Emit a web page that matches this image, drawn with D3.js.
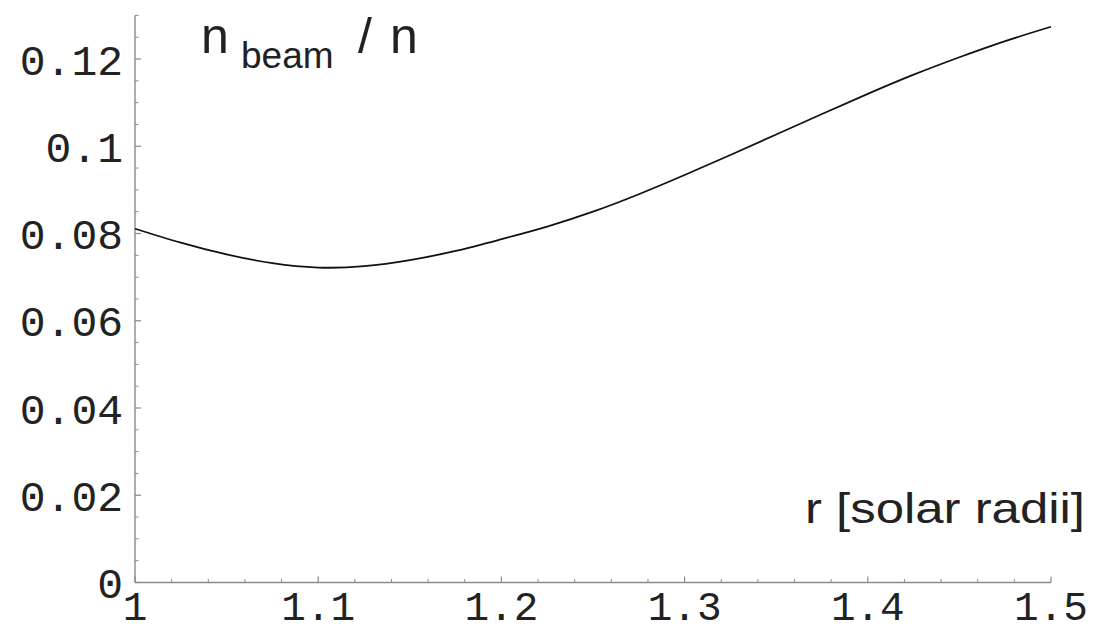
<!DOCTYPE html>
<html>
<head>
<meta charset="utf-8">
<script src="https://cdn.jsdelivr.net/npm/d3@7"></script>
<style>
  html, body { margin: 0; padding: 0; background: #fff; }
  svg { display: block; }
</style>
</head>
<body>
<svg id="chart" width="1093" height="632"></svg>
<script>
// Data
const rValues = [1.000, 1.025, 1.050, 1.075, 1.100, 1.125, 1.150, 1.175, 1.200, 1.225, 1.250,
                 1.275, 1.300, 1.325, 1.350, 1.375, 1.400, 1.425, 1.450, 1.475, 1.500];
const ratioValues = [0.0811, 0.0779, 0.0752, 0.0732, 0.0722, 0.0725, 0.0739, 0.0760, 0.0787, 0.0816, 0.0850,
                     0.0890, 0.0934, 0.0980, 0.1027, 0.1074, 0.1120, 0.1164, 0.1204, 0.1241, 0.1274];
const xTicks = [1, 1.1, 1.2, 1.3, 1.4, 1.5];
const xTickLabels = ["1", "1.1", "1.2", "1.3", "1.4", "1.5"];
const yTicks = [0, 0.02, 0.04, 0.06, 0.08, 0.1, 0.12];
const yTickLabels = ["0", "0.02", "0.04", "0.06", "0.08", "0.1", "0.12"];
const xMinorTicks = d3.range(1, 1.5001, 0.02).filter(v => !xTicks.some(t => Math.abs(t - v) < 1e-6));
const yMinorTicks = d3.range(0, 0.1301, 0.005).filter(v => !yTicks.some(t => Math.abs(t - v) < 1e-6));

const svg = d3.select("#chart");
const x = d3.scaleLinear().domain([1, 1.5]).range([135, 1051]);
const y = d3.scaleLinear().domain([0, 0.12]).range([582.5, 59]);
const yTop = 0.13;
const axisColor = "#8a8a8a";

// Axes lines
svg.append("line").attr("x1", x(1)).attr("x2", x(1.5)).attr("y1", y(0)).attr("y2", y(0))
  .attr("stroke", axisColor).attr("stroke-width", 1.4);
svg.append("line").attr("x1", x(1)).attr("x2", x(1)).attr("y1", y(0)).attr("y2", y(yTop))
  .attr("stroke", axisColor).attr("stroke-width", 1.4);

// X ticks (inward, upward)
svg.append("g").selectAll("line.maj").data(xTicks).join("line")
  .attr("x1", d => x(d)).attr("x2", d => x(d)).attr("y1", y(0)).attr("y2", y(0) - 6)
  .attr("stroke", axisColor).attr("stroke-width", 1.2);
svg.append("g").selectAll("line.min").data(xMinorTicks).join("line")
  .attr("x1", d => x(d)).attr("x2", d => x(d)).attr("y1", y(0)).attr("y2", y(0) - 3.5)
  .attr("stroke", axisColor).attr("stroke-width", 1);

// Y ticks (inward, rightward)
svg.append("g").selectAll("line.maj").data(yTicks).join("line")
  .attr("x1", x(1)).attr("x2", x(1) + 6).attr("y1", d => y(d)).attr("y2", d => y(d))
  .attr("stroke", axisColor).attr("stroke-width", 1.2);
svg.append("g").selectAll("line.min").data(yMinorTicks).join("line")
  .attr("x1", x(1)).attr("x2", x(1) + 3.5).attr("y1", d => y(d)).attr("y2", d => y(d))
  .attr("stroke", axisColor).attr("stroke-width", 1);

// Tick labels
const monoFont = "'Liberation Mono', 'Courier New', monospace";
svg.append("g").selectAll("text").data(yTicks).join("text")
  .attr("x", 123).attr("y", d => y(d) + 15.5)
  .attr("text-anchor", "end")
  .attr("font-family", monoFont).attr("font-size", 43).attr("fill", "#222")
  .text((d, i) => yTickLabels[i]);
svg.append("g").selectAll("text").data(xTicks).join("text")
  .attr("x", d => x(d)).attr("y", 620)
  .attr("text-anchor", "middle")
  .attr("font-family", monoFont).attr("font-size", 41).attr("fill", "#222")
  .text((d, i) => xTickLabels[i]);

// Curve
const pts = rValues.map((r, i) => [r, ratioValues[i]]);
const line = d3.line().x(d => x(d[0])).y(d => y(d[1])).curve(d3.curveNatural);
svg.append("path").datum(pts)
  .attr("d", line).attr("fill", "none").attr("stroke", "#111").attr("stroke-width", 1.8);

// Labels
const sansFont = "'Liberation Sans', Arial, Helvetica, sans-serif";
const title = svg.append("text").attr("font-family", sansFont).attr("fill", "#222");
title.append("tspan").attr("x", 201).attr("y", 53).attr("font-size", 50).text("n");
title.append("tspan").attr("x", 241).attr("y", 68).attr("font-size", 37).text("beam");
title.append("tspan").attr("x", 358).attr("y", 53).attr("font-size", 50).text("/");
title.append("tspan").attr("x", 390).attr("y", 53).attr("font-size", 50).text("n");

svg.append("text").attr("x", 805).attr("y", 523)
  .attr("font-family", sansFont).attr("font-size", 43).attr("fill", "#222")
  .attr("textLength", 280).attr("lengthAdjust", "spacingAndGlyphs")
  .text("r [solar radii]");
</script>
</body>
</html>
